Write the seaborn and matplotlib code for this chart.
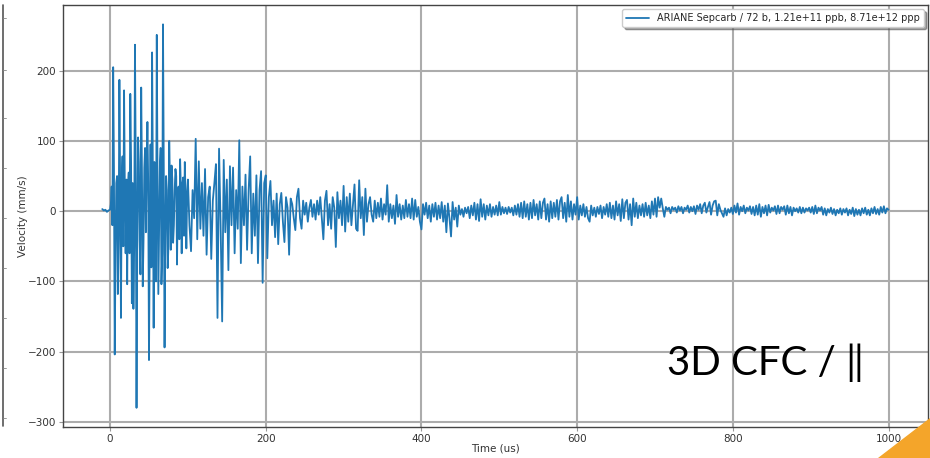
import numpy as np
import pandas as pd
import matplotlib.pyplot as plt
from matplotlib.lines import Line2D
from matplotlib.patches import Polygon
import seaborn as sns

LEGEND_LABEL = "ARIANE Sepcarb / 72 b, 1.21e+11 ppb, 8.71e+12 ppp"
ANNOTATION = "3D CFC / \u2016"

# Velocity (mm/s), segment by segment.
# Pre-trigger and 100-1000 us are sampled every 2 us, the first 100 us every 1 us.
vel_pre = [3, 1, 2, -1, 1]  # -10 .. -2 us
vel_0_100 = [2, 10, 35, -20, 205, 60, -204, -60, 40, 50,
             -118, -40, 187, 30, -152, 40, 78, -50, 172, 30,
             -60, 45, -104, 35, 55, -60, 167, 70, -131, 40,
             -139, -50, 237, 60, -280, -30, 105, 70, -40, -90,
             176, 50, -107, -40, 62, 90, -30, 55, 127, 40,
             -212, -40, 95, -80, 226, 50, -166, 70, 40, -100,
             251, 40, -118, -30, 65, 90, -104, -60, 266, 60,
             -194, -40, 50, 30, -81, -50, 100, 40, -55, 65,
             45, -45, -20, 30, 60, 50, -76, 20, 35, -40,
             74, 30, -60, 40, 48, -35, 70, 20, -53, 25]
vel_100_200 = [45, -20, -57, 30, -10, 103, -40, 71, -25, 40,
               -35, 60, -62, 20, 35, -68, 15, 40, 67, -152,
               89, -20, -157, 73, -30, 45, -84, 64, -20, 62,
               -60, 30, -25, 101, -74, 35, -20, 52, -55, 30,
               78, -60, 25, -35, 51, -74, 30, 57, -102, 40]
vel_200_300 = [51, -67, 20, 43, -20, 15, -37, 25, -47, 10,
               26, -15, -44, 20, 5, -62, 18, 10, -10, -27,
               20, 32, -10, -25, 15, -5, 12, -15, 5, 16,
               -8, 10, -12, 15, -5, 20, -10, -40, 15, 29,
               -20, 10, -25, 20, 5, -51, 27, -10, 15, -20]
vel_300_400 = [36, -29, 20, -15, 25, -20, 10, 38, -25, -28,
               44, -10, 20, -34, 32, -15, 10, 20, -5, -15,
               15, -10, 12, -8, 18, -12, 10, -5, 37, -15,
               10, -10, 8, -18, 23, -8, 10, -12, 8, -10,
               16, -8, 10, -10, 18, -12, 16, -8, 6, -15]
vel_400_500 = [-26, 10, -5, 12, -10, 8, -15, 10, -8, 12,
               -12, 8, -10, 13, -15, 8, -30, 11, -10, -36,
               13, -12, 5, -22, 8, -5, 3, -8, 5, -3,
               6, -10, 8, -6, 12, -12, 10, -14, 17, -8,
               10, -12, 8, -6, 10, -8, 6, -5, 8, -6]
vel_500_600 = [13, -5, 6, -3, 5, -4, 6, -2, 5, -6,
               8, -5, 10, -8, 12, -10, 14, -8, 10, -12,
               12, -10, 16, -6, 10, -12, 14, -10, 12, 18,
               -12, 10, -15, 14, -10, 12, -8, 16, -12, 14,
               20, -10, 12, -15, 23, -8, 14, -12, 10, -5]
vel_600_700 = [20, -12, 8, -6, 10, -8, 6, -10, -15, 8,
               -6, 5, -8, 6, -4, 8, -10, 6, -5, 10,
               -8, 12, -10, 8, -12, 14, -6, 10, -14, 17,
               -10, 12, 16, -12, 10, -20, 18, -8, 12, -10,
               8, -6, 10, -8, 12, -6, 8, -10, 14, -5]
vel_700_800 = [18, -8, 20, 5, 18, 4, -8, 6, 2, 5,
               -3, 6, 2, 5, -2, 7, 1, 6, -3, 5,
               2, 8, -2, 6, 0, 7, -4, 8, 2, 10,
               -3, 8, 12, -2, 6, 13, -5, 8, 14, 15,
               -6, 10, 2, -3, -8, 4, -6, 3, -2, 5]
vel_800_900 = [-4, 8, -2, 11, -5, 6, 0, 8, -3, 5,
               1, 7, -4, 6, -6, 8, -5, 10, -8, 6,
               -3, 8, -6, 9, -2, 5, 1, 7, -4, 8,
               -3, 6, 2, 7, -5, 8, -3, 6, -6, 5,
               0, 4, -2, 6, -3, 5, -2, 4, 1, 5]
vel_900_1000 = [-2, 6, -4, 8, -3, 5, 1, 6, -5, 4,
                -6, 3, -2, 5, -4, 3, -6, 2, -3, 4,
                -5, 3, -2, 4, -6, 2, -4, 5, -7, 3,
                -5, 2, -6, 4, -3, 5, -5, 2, -6, 4,
                -3, 6, -4, 3, -5, 6, -2, 7, -3, 4, 2]


def plot_velocity_trace():
    velocity = np.concatenate([vel_pre, vel_0_100, vel_100_200, vel_200_300,
                               vel_300_400, vel_400_500, vel_500_600, vel_600_700,
                               vel_700_800, vel_800_900, vel_900_1000]).astype(float)
    # sampling grid (us)
    time = np.concatenate([np.arange(-10, 0, 2), np.arange(0, 100, 1),
                           np.arange(100, 1001, 2)])
    df = pd.DataFrame({"Time (us)": time, "Velocity (mm/s)": velocity})

    sns.set_style("whitegrid", {"grid.color": "#acacac", "axes.edgecolor": "#444444"})
    plt.rcParams["font.family"] = ["DejaVu Sans"]

    fig = plt.figure(figsize=(9.3, 4.58), dpi=100)
    ax = fig.add_axes([0.0677, 0.0677, 0.930, 0.921])

    sns.lineplot(data=df, x="Time (us)", y="Velocity (mm/s)", ax=ax,
                 color="#1f77b4", linewidth=1.3, estimator=None, sort=False,
                 label=LEGEND_LABEL)

    ax.grid(True, color="#acacac", linewidth=1.5)
    ax.tick_params(axis="both", labelsize=7.5, length=3, pad=2, width=0.8,
                   direction="out", left=True, bottom=True,
                   color="#999999", labelcolor="#333333")
    for spine in ax.spines.values():
        spine.set_linewidth(1.0)
    ax.set_xlabel("Time (us)", fontsize=7.5, color="#333333", labelpad=0)
    ax.set_ylabel("Velocity (mm/s)", fontsize=7.5, color="#333333", labelpad=0)

    ax.legend(loc="upper right", fontsize=7, shadow=True, framealpha=1,
              edgecolor="#cccccc", borderaxespad=0.4, handlelength=2.4)

    # slide overlay: big label, left frame edge, orange corner
    fig.text(667 / 930, 1 - 375 / 458, ANNOTATION, fontsize=29,
             family=["Lato", "DejaVu Sans"], color="black", va="baseline")
    fig.add_artist(Line2D([2.5 / 930, 2.5 / 930], [1 - 5 / 458, 1 - 426 / 458],
                          color="#555555", lw=1.2))
    for yy in [18, 70, 118, 168, 218, 268, 318, 368, 418]:
        fig.add_artist(Line2D([2.5 / 930, 5.5 / 930], [1 - yy / 458] * 2,
                              color="#888888", lw=0.6))
    fig.add_artist(Polygon([[878 / 930, 0], [1, 0], [1, 1 - 418 / 458]],
                           closed=True, color="#F4A52A", transform=fig.transFigure))

    fig.savefig("out.png", dpi=100)


if __name__ == "__main__":
    plot_velocity_trace()
